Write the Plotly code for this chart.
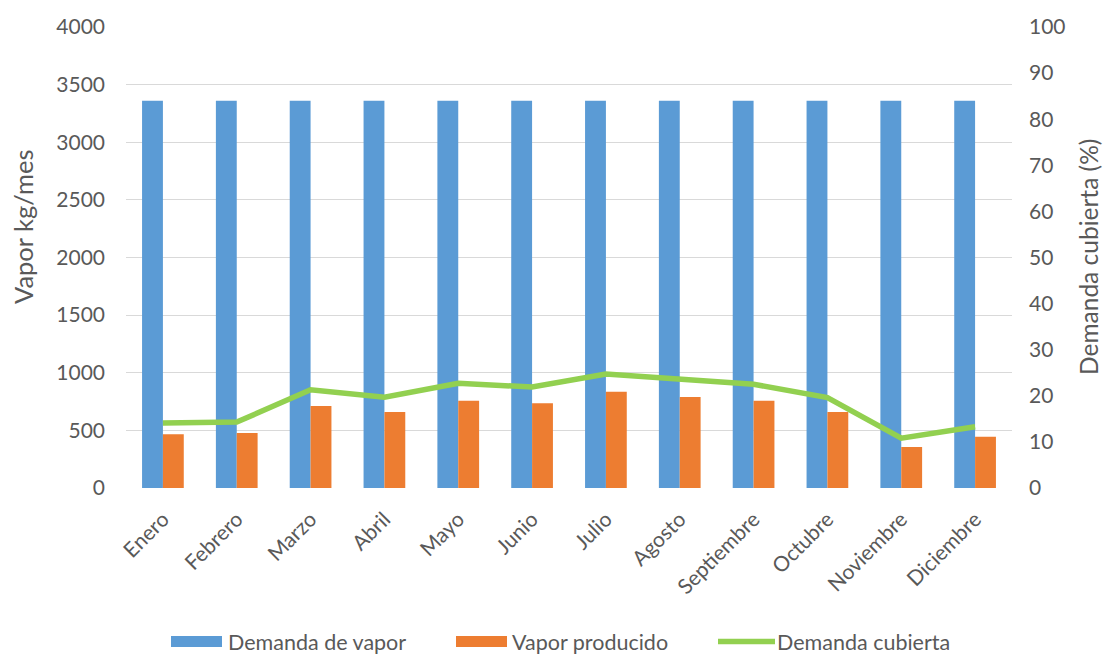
import plotly.graph_objects as go

meses = ["Enero", "Febrero", "Marzo", "Abril", "Mayo", "Junio", "Julio",
         "Agosto", "Septiembre", "Octubre", "Noviembre", "Diciembre"]
demanda_vapor = [3360] * 12
vapor_producido = [466, 477, 711, 659, 757, 735, 836, 790, 757, 659, 356, 445]
demanda_cubierta = [14.1, 14.3, 21.3, 19.7, 22.7, 21.9, 24.7, 23.7, 22.5, 19.6, 10.8, 13.3]

left_ticks = [0, 500, 1000, 1500, 2000, 2500, 3000, 3500, 4000]
right_ticks = [0, 10, 20, 30, 40, 50, 60, 70, 80, 90, 100]

FONT = "Lato, Liberation Sans, sans-serif"
GRAY = "#595959"
BLUE, ORANGE, GREEN = "#5B9BD5", "#ED7D31", "#92D050"

# plot area in pixels: x 126..1012, y 27..488
W, H = 1104, 655
L, R, T, B = 126, 92, 27, 167
PW, PH = W - L - R, H - T - B


def px(x):
    return (x - L) / PW


def py(y):
    return (H - B - y) / PH


fig = go.Figure()
fig.add_trace(go.Bar(x=meses, y=demanda_vapor, name="Demanda de vapor",
                     marker=dict(color=BLUE, line=dict(width=0))))
fig.add_trace(go.Bar(x=meses, y=vapor_producido, name="Vapor producido",
                     marker=dict(color=ORANGE, line=dict(width=0))))
fig.add_trace(go.Scatter(x=meses, y=demanda_cubierta, name="Demanda cubierta",
                         mode="lines", yaxis="y2",
                         line=dict(color=GREEN, width=5.5)))

# legend row along the bottom
LEG_Y = 641.5
legend_shapes = [
    dict(type="rect", xref="paper", yref="paper", x0=px(171), x1=px(222),
         y0=py(LEG_Y + 5.5), y1=py(LEG_Y - 5.5), fillcolor=BLUE, line=dict(width=0)),
    dict(type="rect", xref="paper", yref="paper", x0=px(456), x1=px(507),
         y0=py(LEG_Y + 5.5), y1=py(LEG_Y - 5.5), fillcolor=ORANGE, line=dict(width=0)),
    dict(type="line", xref="paper", yref="paper", x0=px(718), x1=px(775),
         y0=py(LEG_Y), y1=py(LEG_Y), line=dict(color=GREEN, width=5.5)),
]
legend_texts = [(227, "Demanda de vapor"), (511, "Vapor producido"), (776, "Demanda cubierta")]
annotations = [
    dict(xref="paper", yref="paper", x=px(xp), y=py(LEG_Y), text=t, showarrow=False,
         xanchor="left", yanchor="middle", borderpad=0,
         font=dict(size=21.5, color=GRAY, family=FONT))
    for xp, t in legend_texts
]
# axis titles
annotations += [
    dict(xref="paper", yref="paper", x=px(23), y=py(227), text="Vapor kg/mes",
         textangle=-90, showarrow=False, xanchor="center", yanchor="middle",
         borderpad=0, font=dict(size=25.5, color=GRAY, family=FONT)),
    dict(xref="paper", yref="paper", x=px(1088), y=py(257), text="Demanda cubierta (%)",
         textangle=-90, showarrow=False, xanchor="center", yanchor="middle",
         borderpad=0, font=dict(size=24.5, color=GRAY, family=FONT)),
]

fig.update_layout(
    width=W, height=H,
    margin=dict(l=L, r=R, t=T, b=B),
    paper_bgcolor="white", plot_bgcolor="white",
    barmode="group", bargap=0.435, bargroupgap=0,
    showlegend=False,
    font=dict(family=FONT, color=GRAY, size=21),
    xaxis=dict(tickangle=-45, tickfont=dict(size=21, color=GRAY),
               showgrid=False, showline=False, ticks="", automargin=False,
               ticklabelstandoff=14),
    yaxis=dict(range=[0, 4000], tickvals=left_ticks, showgrid=True,
               gridcolor="#d9d9d9", gridwidth=1.2, zeroline=False,
               showline=False, ticks="", automargin=False, ticklabelstandoff=20,
               tickfont=dict(size=21, color=GRAY)),
    yaxis2=dict(range=[0, 100], tickvals=right_ticks, overlaying="y", side="right",
                showgrid=False, zeroline=False, showline=False, ticks="",
                automargin=False, ticklabelstandoff=16,
                tickfont=dict(size=21, color=GRAY)),
    shapes=legend_shapes,
    annotations=annotations,
)

fig.write_html("out.html")
